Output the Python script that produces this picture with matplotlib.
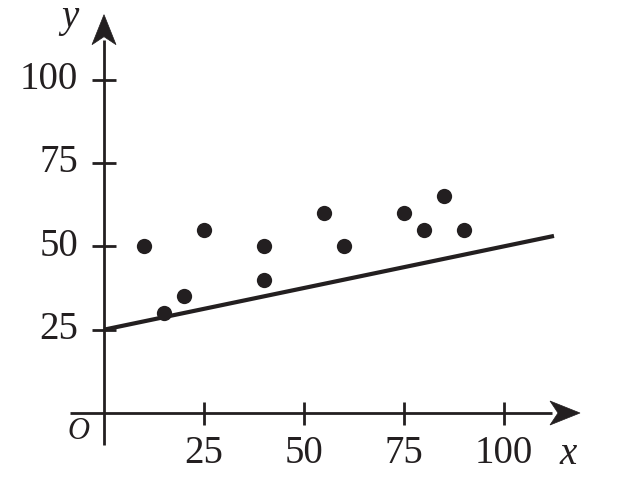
import matplotlib
matplotlib.use("Agg")
import matplotlib.pyplot as plt
from matplotlib.patches import Polygon
from matplotlib.transforms import Affine2D
import numpy as np

# data
x_vals = [10, 15, 20, 25, 40, 40, 55, 60, 75, 80, 85, 90]
y_vals = [50, 30, 35, 55, 40, 50, 60, 50, 60, 55, 65, 55]
line_intercept = 25
line_slope = 0.25
line_x_end = 112.5
x_ticks = [25, 50, 75, 100]
y_ticks = [25, 50, 75, 100]

INK = '#231f20'
plt.rcParams['font.family'] = ['Liberation Serif', 'DejaVu Serif']
fig = plt.figure(figsize=(6.22, 4.87), dpi=100)
ax = fig.add_axes([0, 0, 1, 1])
ax.set_xlim(-26, 129.5)
ax.set_ylim(-22.2, 123.9)
ax.axis('off')

lw_axis = 2.0
x_tip = (119, 0)
y_tip = (0, 119.5)
ax.plot([-8.5, 112], [0, 0], color=INK, lw=lw_axis, solid_capstyle='butt')
ax.plot([0, 0], [-9.5, 112], color=INK, lw=lw_axis, solid_capstyle='butt')

# concave arrowheads, shape in pixels relative to tip (pointing +x)
head = np.array([[0, 0], [-30, 12], [-22, 0], [-30, -12]])
fig.canvas.draw()
for tip, ang in [(x_tip, 0), (y_tip, 90)]:
    tx, ty = ax.transData.transform(tip)
    tr = Affine2D().rotate_deg(ang).translate(tx, ty)
    ax.add_patch(Polygon(head, closed=True, transform=tr, facecolor=INK,
                         edgecolor=INK, lw=0.5, zorder=6))

# ticks
for t in x_ticks:
    ax.plot([t, t], [-3.6, 3.2], color=INK, lw=lw_axis, solid_capstyle='butt')
    ax.text(t, -12.2, str(t), ha='center', va='center', fontsize=28, color=INK)
for t in y_ticks:
    ax.plot([-3, 3], [t, t], color=INK, lw=lw_axis, solid_capstyle='butt')
    ax.text(-6.5, t, str(t), ha='right', va='center', fontsize=28, color=INK)

# regression line
lx = np.array([0, line_x_end])
ax.plot(lx, line_intercept + line_slope * lx, color=INK, lw=3.0, solid_capstyle='butt')

# points
ax.scatter(x_vals, y_vals, s=11**2, color=INK, zorder=5, linewidths=0)

# labels
ax.text(-6.5, -5.5, 'O', ha='center', va='center', fontsize=22, style='italic', color=INK)
ax.text(116, -12.5, 'x', ha='center', va='center', fontsize=28, style='italic', color=INK)
ax.text(-8.5, 118.5, 'y', ha='center', va='center', fontsize=28, style='italic', color=INK)

fig.savefig('out.png', dpi=100)
